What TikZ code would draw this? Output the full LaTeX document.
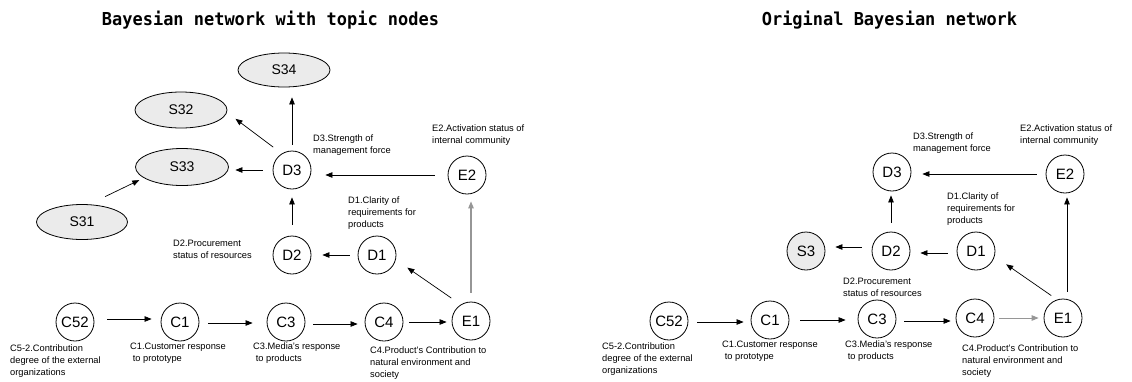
\documentclass[tikz,border=0pt]{standalone}
\usepackage{fontspec}
\setmainfont{Liberation Sans}
\newfontfamily\titlefont{DejaVu Sans Mono}
\usetikzlibrary{arrows.meta,shapes.geometric}
\definecolor{nodefill}{RGB}{235,235,235}
\definecolor{lightline}{RGB}{150,150,150}
\tikzset{
  bn/.style={circle,draw,line width=0.8pt,minimum size=38pt,inner sep=0pt,font=\fontsize{15}{17}\selectfont},
  topic/.style={ellipse,draw,line width=0.8pt,fill=nodefill,minimum width=92pt,minimum height=35pt,inner sep=0pt,font=\fontsize{14}{16}\selectfont},
  topiccirc/.style={bn,fill=nodefill},
  lbl/.style={anchor=north west,inner sep=0pt,align=left,font=\fontsize{9.3}{11.7}\selectfont},
  ttl/.style={anchor=base,inner sep=0pt,font=\titlefont\bfseries\fontsize{17.8}{20}\selectfont},
  arr/.style={-{Triangle[length=7pt,width=5.5pt]},line width=0.7pt},
  garr/.style={arr,draw=lightline,line width=1.1pt}
}
\begin{document}
\begin{tikzpicture}[x=1pt,y=-1pt]
\useasboundingbox (0,0) rectangle (1132,381);
% titles
\node[ttl] (t1) at (270.5,25.7) {\scalebox{0.953}[1]{Bayesian network with topic nodes}};
\node[ttl] (t2) at (889.5,25.7) {\scalebox{0.953}[1]{Original Bayesian network}};

% ---------- left diagram ----------
\node[topic,minimum height=34pt] (S34) at (284,70) {S34};
\node[topic,minimum height=36pt] (S32) at (181,110) {S32};
\node[topic,minimum width=93pt,minimum height=37pt] (S33) at (182,167) {S33};
\node[topic,minimum width=91pt] (S31) at (82,222) {S31};
\node[bn] (D3) at (292,170) {D3};
\node[bn] (E2) at (467,175) {E2};
\node[bn] (D2) at (292,255) {D2};
\node[bn] (D1) at (377,255) {D1};
\node[bn] (C52) at (75,322) {C52};
\node[bn] (C1) at (180,322) {C1};
\node[bn] (C3) at (286,322) {C3};
\node[bn] (C4) at (384,322) {C4};
\node[bn] (E1) at (471,321) {E1};

\node[lbl] (lD3) at (313,135) {D3.Strength of\\management force};
\node[lbl] (lE2) at (432,125) {E2.Activation status of\\internal community};
\node[lbl] (lD1) at (348,197) {D1.Clarity of\\requirements for\\products};
\node[lbl] (lD2) at (173,240) {D2.Procurement\\status of resources};
\node[lbl] (lC52) at (10,345) {C5-2.Contribution\\degree of the external\\organizations};
\node[lbl] (lC1) at (130,343) {C1.Customer response\\\ to prototype};
\node[lbl] (lC3) at (253,343) {C3.Media's response\\\ to products};
\node[lbl] (lC4) at (370,347) {C4.Product's Contribution to\\natural environment and\\society};

\draw[arr,shorten <=6pt,shorten >=10pt] (D3.north) -- (D3.north |- S34.south);
\draw[arr,shorten <=10.7pt,shorten >=10.6pt] (D3.122) -- (S32.-3);
\draw[arr,shorten <=10pt,shorten >=6.5pt] (D3.west) -- (D3.west -| S33.east);
\draw[arr,shorten <=17.7pt,shorten >=5pt] (S31.68) -- (S33.196);
\draw[arr,shorten <=13pt,shorten >=14pt] (E2.west) -- (E2.west -| D3.east);
\draw[arr,shorten <=11pt,shorten >=8pt] (D2.north) -- (D3.south);
\draw[arr,shorten <=8pt,shorten >=11pt] (D1.west) -- (D2.east);
\draw[arr,shorten <=11.5pt,shorten >=14pt] (E1.122) -- (D1.-14);
\draw[garr,shorten <=9pt,shorten >=7pt] (E1.north) -- (E1.north |- E2.south);
\draw[arr,shorten <=13pt,shorten >=9pt] ([yshift=3pt]C52.east) -- ([yshift=3pt]C1.west);
\draw[arr,shorten <=9pt,shorten >=14pt] ([yshift=-1pt]C1.east) -- ([yshift=-1pt]C3.west);
\draw[arr,shorten <=8pt,shorten >=7pt] ([yshift=-2pt]C3.east) -- ([yshift=-2pt]C4.west);
\draw[arr,shorten <=6pt,shorten >=5pt] (C4.east) -- (C4.east -| E1.west);

% ---------- right diagram ----------
\node[bn] (rD3) at (892,172) {D3};
\node[bn] (rE2) at (1065,174) {E2};
\node[topiccirc] (rS3) at (806,251) {S3};
\node[bn] (rD2) at (891,251) {D2};
\node[bn] (rD1) at (976,251) {D1};
\node[bn] (rC52) at (669,321) {C52};
\node[bn] (rC1) at (770,320) {C1};
\node[bn] (rC3) at (877,319) {C3};
\node[bn] (rC4) at (975,318) {C4};
\node[bn] (rE1) at (1063,318) {E1};

\node[lbl] (rlD3) at (913,133) {D3.Strength of\\management force};
\node[lbl] (rlE2) at (1020,125) {E2.Activation status of\\internal community};
\node[lbl] (rlD1) at (947,193) {D1.Clarity of\\requirements for\\products};
\node[lbl] (rlD2) at (843,278) {D2.Procurement\\status of resources};
\node[lbl] (rlC52) at (602,343) {C5-2.Contribution\\degree of the external\\organizations};
\node[lbl] (rlC1) at (722,341) {C1.Customer response\\\ to prototype};
\node[lbl] (rlC3) at (845,341) {C3.Media's response\\\ to products};
\node[lbl] (rlC4) at (962,345) {C4.Product's Contribution to\\natural environment and\\society};

\draw[arr,shorten <=9pt,shorten >=11pt] (rE2.west) -- (rE2.west -| rD3.east);
\draw[arr,shorten <=9pt,shorten >=4pt] (rD2.north) -- (rD2.north |- rD3.south);
\draw[arr,shorten <=9pt,shorten >=10pt] ([yshift=-2pt]rD1.west) -- ([yshift=-2pt]rD2.east);
\draw[arr,shorten <=10pt,shorten >=10pt] ([yshift=4pt]rD2.west) -- ([yshift=4pt]rS3.east);
\draw[arr,shorten <=7pt,shorten >=14pt] (rE1.108) -- (rD1.-16);
\draw[arr,shorten <=7pt,shorten >=4pt] ([xshift=4pt]rE1.north) -- ([xshift=4pt]rE1.north |- rE2.south);
\draw[arr,shorten <=9pt,shorten >=7pt] ([yshift=-1pt]rC52.east) -- ([yshift=-1pt]rC52.east -| rC1.west);
\draw[arr,shorten <=11pt,shorten >=12pt] (rC1.east) -- (rC1.east -| rC3.west);
\draw[arr,shorten <=8pt,shorten >=5pt] ([yshift=-2pt]rC3.east) -- ([yshift=-2pt]rC3.east -| rC4.west);
\draw[garr,line width=0.9pt,shorten <=5pt,shorten >=5pt] (rC4.east) -- (rC4.east -| rE1.west);
\end{tikzpicture}
\end{document}
